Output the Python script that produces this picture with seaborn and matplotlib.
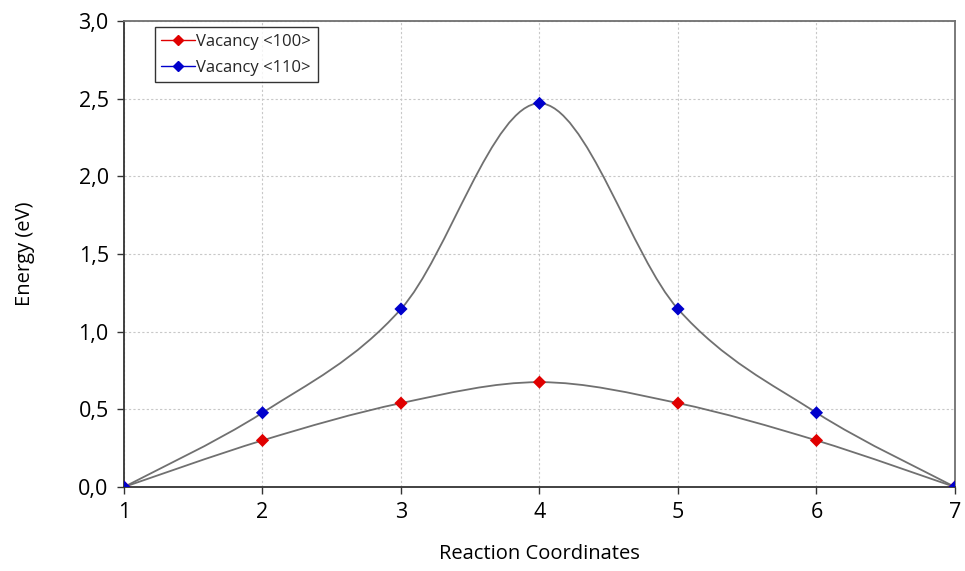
import matplotlib
matplotlib.use("Agg")
import matplotlib.pyplot as plt
import seaborn as sns
import pandas as pd
from matplotlib.path import Path
from matplotlib.patches import PathPatch
from matplotlib.ticker import FuncFormatter, MultipleLocator

# data
coords = [1, 2, 3, 4, 5, 6, 7]
vac_100 = [0.0, 0.30, 0.54, 0.675, 0.54, 0.30, 0.0]
vac_110 = [0.0, 0.478, 1.146, 2.47, 1.146, 0.478, 0.0]
labels = ["Vacancy <100>", "Vacancy <110>"]
colors = ["#e00000", "#0000cc"]

df = pd.DataFrame({
    "coord": coords * 2,
    "energy": vac_100 + vac_110,
    "series": [labels[0]] * len(coords) + [labels[1]] * len(coords),
})

sns.set_style("white")
plt.rcParams["font.family"] = ["Open Sans", "DejaVu Sans"]

fig = plt.figure(figsize=(9.65, 5.71), dpi=100)
ax = fig.add_axes([0.1285, 0.1471, 0.8611, 0.8161])


def smooth_path(xs, ys):
    # excel-like smoothed line: cubic bezier segments through the points
    verts = [(xs[0], ys[0])]
    codes = [Path.MOVETO]
    n = len(xs)
    for i in range(n - 1):
        x0, y0 = (xs[i - 1], ys[i - 1]) if i > 0 else (xs[i], ys[i])
        x1, y1 = xs[i], ys[i]
        x2, y2 = xs[i + 1], ys[i + 1]
        x3, y3 = (xs[i + 2], ys[i + 2]) if i + 2 < n else (x2, y2)
        c1 = (x1 + (x2 - x0) / 6, y1 + (y2 - y0) / 6)
        c2 = (x2 - (x3 - x1) / 6, y2 - (y3 - y1) / 6)
        verts += [c1, c2, (x2, y2)]
        codes += [Path.CURVE4] * 3
    return Path(verts, codes)


for vals in (vac_100, vac_110):
    ax.add_patch(PathPatch(smooth_path(coords, vals), facecolor="none",
                           edgecolor="#707070", lw=1.3, zorder=2))

sns.scatterplot(data=df, x="coord", y="energy", hue="series",
                palette=colors, marker="D", s=45, edgecolor="none",
                zorder=3, ax=ax, legend=False)

# legend handles: line + diamond
handles = [plt.Line2D([], [], color=c, marker="D", markersize=5.5, lw=1)
           for c in colors]
leg = ax.legend(handles, labels, loc="upper left",
                bbox_to_anchor=(0.037, 0.987), borderaxespad=0,
                frameon=True, fancybox=False,
                edgecolor="black", fontsize=12, handlelength=2.0,
                handletextpad=0.1, borderpad=0.4, labelspacing=0.6)
leg.get_frame().set_linewidth(1.0)

ax.set_xlim(1, 7)
ax.set_ylim(0, 3)
ax.xaxis.set_major_locator(MultipleLocator(1))
ax.yaxis.set_major_locator(MultipleLocator(0.5))
ax.yaxis.set_major_formatter(FuncFormatter(lambda v, p: f"{v:.1f}".replace(".", ",")))
ax.grid(True, color="#c8c8c8", linestyle=(0, (2, 2)), lw=0.8)
ax.set_axisbelow(True)
for sp in ax.spines.values():
    sp.set_color("#707070")
    sp.set_linewidth(1.3)
ax.spines["left"].set_color("#333333")
ax.spines["bottom"].set_color("#333333")
ax.tick_params(axis="both", which="major", labelsize=15.5, length=5,
               width=1, color="#333333", direction="out", pad=6,
               bottom=True, left=True, labelcolor="black")

ax.set_xlabel("Reaction Coordinates", fontsize=14.5, labelpad=15, color="black")
ax.set_ylabel("Energy (eV)", fontsize=14.5, labelpad=31, color="black")

fig.savefig("out.png", dpi=100)
